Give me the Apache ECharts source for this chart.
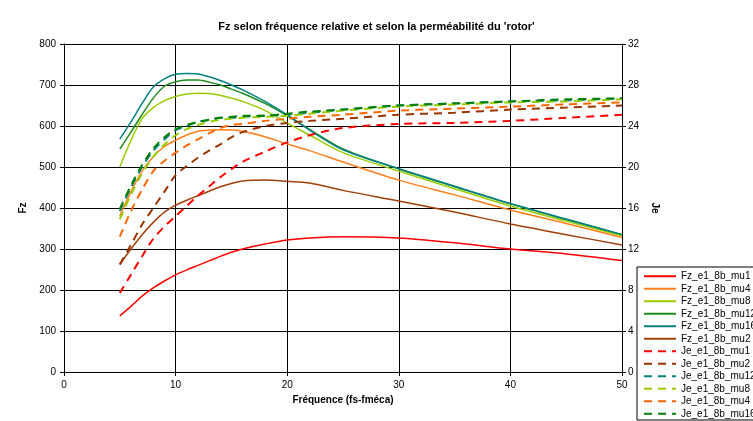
<!DOCTYPE html>
<html>
<head>
<meta charset="utf-8">
<script src="https://cdn.jsdelivr.net/npm/echarts@6/dist/echarts.min.js"></script>
<style>
  html, body { margin: 0; padding: 0; background: #fff; }
  #chart { width: 753px; height: 421px; }
</style>
</head>
<body>
<div id="chart"></div>
<script>
// fréquence (fs-fméca)
const freq = [5, 6, 7, 8, 9, 10, 11, 12, 13, 14, 15, 16, 18, 20, 22, 25, 30, 35, 40, 45, 50];

// Fz (axe gauche)
const fzMu1  = [137, 160, 185, 205, 222, 237, 249, 260, 271, 282, 292, 300, 312, 322, 327, 330, 327, 315, 300, 288, 272];
const fzMu4  = [380, 440, 490, 525, 550, 565, 578, 587, 590, 591, 590, 587, 574, 556, 540, 512, 468, 432, 395, 362, 328];
const fzMu8  = [500, 565, 618, 645, 662, 672, 678, 680, 679, 675, 668, 660, 638, 607, 578, 535, 490, 447, 405, 368, 332];
const fzMu12 = [544, 585, 628, 668, 697, 708, 712, 712, 707, 700, 690, 680, 655, 625, 592, 544, 495, 452, 410, 372, 335];
const fzMu16 = [568, 610, 655, 695, 715, 726, 728, 727, 720, 711, 700, 688, 660, 627, 590, 542, 496, 453, 411, 373, 335];
const fzMu2  = [262, 300, 335, 365, 390, 407, 419, 430, 441, 452, 460, 466, 468, 465, 461, 443, 417, 390, 361, 335, 310];

// Je (axe droit)
const jeMu1  = [7.7, 9.5, 11.3, 13.0, 14.2, 15.2, 16.2, 17.2, 18.1, 19.0, 19.8, 20.5, 21.5, 22.4, 23.1, 23.8, 24.2, 24.3, 24.5, 24.8, 25.1];
const jeMu2  = [10.5, 12.4, 14.4, 16.0, 17.6, 19.2, 20.1, 20.9, 21.6, 22.2, 22.9, 23.4, 24.0, 24.3, 24.5, 24.7, 25.1, 25.3, 25.6, 25.8, 26.0];
const jeMu12 = [15.7, 18.0, 20.0, 21.6, 22.7, 23.6, 24.0, 24.4, 24.6, 24.8, 24.8, 24.9, 25.0, 25.1, 25.3, 25.6, 26.0, 26.2, 26.4, 26.5, 26.7];
const jeMu8  = [14.9, 17.3, 19.4, 21.0, 22.2, 23.1, 23.7, 24.1, 24.4, 24.6, 24.7, 24.8, 24.9, 25.0, 25.2, 25.5, 25.9, 26.1, 26.3, 26.4, 26.6];
const jeMu4  = [13.2, 15.7, 17.8, 19.6, 20.6, 21.4, 22.1, 22.7, 23.3, 23.8, 24.1, 24.2, 24.5, 24.7, 24.9, 25.1, 25.5, 25.7, 25.9, 26.1, 26.3];
const jeMu16 = [15.9, 18.2, 20.2, 21.8, 22.9, 23.7, 24.1, 24.4, 24.6, 24.8, 24.9, 25.0, 25.0, 25.2, 25.4, 25.6, 26.0, 26.2, 26.4, 26.6, 26.7];

const chart = echarts.init(document.getElementById('chart'), null, { renderer: 'canvas' });

function pts(vals) {
  return freq.map((f, i) => [f, vals[i]]);
}
function solid(name, vals, color) {
  return {
    name, type: 'line', yAxisIndex: 0, data: pts(vals),
    symbol: 'none', smooth: 0.3, color,
    lineStyle: { width: 1.5, color }
  };
}
function dash(name, vals, color) {
  return {
    name, type: 'line', yAxisIndex: 1, data: pts(vals),
    symbol: 'none', smooth: 0.3, color,
    lineStyle: { width: 2, color, type: [8, 6] }
  };
}

const font = 'Liberation Sans, Arial, sans-serif';

const option = {
  animation: false,
  title: {
    text: "Fz selon fréquence relative et selon la perméabilité du 'rotor'",
    left: 'center', top: 16,
    textStyle: { fontFamily: font, fontSize: 11, fontWeight: 'bold', color: '#000' }
  },
  legend: {
    orient: 'vertical',
    left: 637, top: 267,
    padding: [3, 40, 0, 6],
    itemWidth: 32, itemHeight: 9, itemGap: 0,
    itemStyle: { opacity: 0 },
    borderColor: '#000', borderWidth: 1,
    textStyle: { fontFamily: font, fontSize: 10, color: '#000', lineHeight: 12.5, height: 12.5 },
    data: ['Fz_e1_8b_mu1', 'Fz_e1_8b_mu4', 'Fz_e1_8b_mu8', 'Fz_e1_8b_mu12', 'Fz_e1_8b_mu16', 'Fz_e1_8b_mu2',
           'Je_e1_8b_mu1', 'Je_e1_8b_mu2', 'Je_e1_8b_mu12', 'Je_e1_8b_mu8', 'Je_e1_8b_mu4', 'Je_e1_8b_mu16']
  },
  grid: { left: 64, right: 131, top: 44, bottom: 49 },
  xAxis: {
    type: 'value', min: 0, max: 50, interval: 10,
    name: 'Fréquence (fs-fméca)', nameLocation: 'middle', nameGap: 22,
    nameTextStyle: { fontFamily: font, fontSize: 10, fontWeight: 'bold', color: '#000' },
    axisLine: { lineStyle: { color: '#000', width: 1 } },
    axisTick: { show: true, length: 4, lineStyle: { color: '#000' } },
    axisLabel: { fontFamily: font, fontSize: 10, color: '#000', margin: 8 },
    splitLine: { show: true, lineStyle: { color: '#000', width: 1 } }
  },
  yAxis: [
    {
      type: 'value', min: 0, max: 800, interval: 100,
      name: 'Fz', nameLocation: 'middle', nameGap: 34, nameRotate: 90,
      nameTextStyle: { fontFamily: font, fontSize: 10, fontWeight: 'bold', color: '#000' },
      axisLine: { show: true, lineStyle: { color: '#000', width: 1 } },
      axisTick: { show: true, length: 4, lineStyle: { color: '#000' } },
      axisLabel: { fontFamily: font, fontSize: 10, color: '#000', margin: 8 },
      splitLine: { show: true, lineStyle: { color: '#000', width: 1 } }
    },
    {
      type: 'value', min: 0, max: 32, interval: 4, position: 'right',
      name: 'Je', nameLocation: 'middle', nameGap: 26, nameRotate: -90,
      nameTextStyle: { fontFamily: font, fontSize: 10, fontWeight: 'bold', color: '#000' },
      axisLine: { show: true, lineStyle: { color: '#000', width: 1 } },
      axisTick: { show: true, length: 4, lineStyle: { color: '#000' } },
      axisLabel: { fontFamily: font, fontSize: 10, color: '#000', margin: 6 },
      splitLine: { show: false }
    }
  ],
  series: [
    solid('Fz_e1_8b_mu1', fzMu1, '#FF0000'),
    solid('Fz_e1_8b_mu4', fzMu4, '#FF7F1A'),
    solid('Fz_e1_8b_mu8', fzMu8, '#99CC00'),
    solid('Fz_e1_8b_mu12', fzMu12, '#1E8C1E'),
    solid('Fz_e1_8b_mu16', fzMu16, '#008080'),
    solid('Fz_e1_8b_mu2', fzMu2, '#A0400A'),
    dash('Je_e1_8b_mu1', jeMu1, '#FF0000'),
    dash('Je_e1_8b_mu2', jeMu2, '#993300'),
    dash('Je_e1_8b_mu12', jeMu12, '#008080'),
    dash('Je_e1_8b_mu8', jeMu8, '#99CC00'),
    dash('Je_e1_8b_mu4', jeMu4, '#FF6600'),
    dash('Je_e1_8b_mu16', jeMu16, '#008000')
  ]
};

chart.setOption(option);
</script>
</body>
</html>
